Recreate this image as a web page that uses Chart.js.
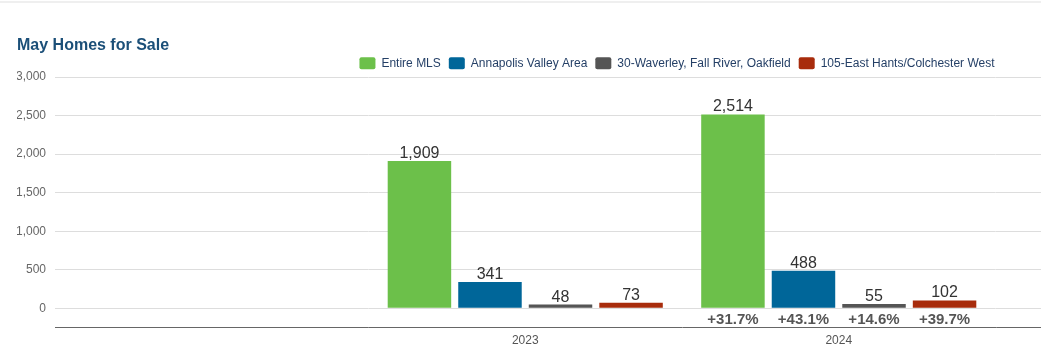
<!DOCTYPE html>
<html>
<head>
<meta charset="utf-8">
<script src="https://cdn.jsdelivr.net/npm/chart.js@4.4.1/dist/chart.umd.min.js"></script>
<style>
  html, body { margin: 0; padding: 0; background: #fff; overflow: hidden; }
  body { width: 1041px; height: 351px; position: relative; }
  #topline { position: absolute; left: 0; top: 1px; width: 1041px; height: 2px; background: #efefef; }
  #wrap { position: absolute; left: 0; top: 0; width: 1340px; height: 351px; }
</style>
</head>
<body>
<div id="topline"></div>
<div id="wrap"><canvas id="c"></canvas></div>
<script>
// ---- data ----
const categories = ["", "2023", "2024", ""];
const seriesNames = ["Entire MLS", "Annapolis Valley Area", "30-Waverley, Fall River, Oakfield", "105-East Hants/Colchester West"];
const entireMLS = [null, 1909, 2514, null];
const annapolisValley = [null, 341, 488, null];
const waverley = [null, 48, 55, null];
const eastHants = [null, 73, 102, null];
const changeLabels2024 = ["+31.7%", "+43.1%", "+14.6%", "+39.7%"];
const yTicks = [0, 500, 1000, 1500, 2000, 2500, 3000];
const seriesColors = ["#6cc04a", "#006699", "#555555", "#a82c0c"];

const seriesValues = [entireMLS, annapolisValley, waverley, eastHants];

const labelPlugin = {
  id: 'barLabels',
  afterLayout(chart) {
    // nudge the legend slightly to the left, like the original
    if (chart.legend) { chart.legend.left -= 5; chart.legend.right -= 5; }
  },
  afterDatasetsDraw(chart) {
    const ctx = chart.ctx;
    ctx.save();
    ctx.textAlign = 'center';
    chart.data.datasets.forEach((ds, di) => {
      const meta = chart.getDatasetMeta(di);
      meta.data.forEach((bar, i) => {
        const v = ds.data[i];
        if (v === null || v === undefined) return;
        ctx.font = '16px "Liberation Sans", Arial, sans-serif';
        ctx.fillStyle = '#333333';
        ctx.textBaseline = 'alphabetic';
        ctx.fillText(v.toLocaleString('en-US'), bar.x, bar.y - 3);
        if (categories[i] === "2024") {
          ctx.font = 'bold 15px "Liberation Sans", Arial, sans-serif';
          ctx.fillStyle = '#555555';
          const zeroY = chart.scales.y.getPixelForValue(0);
          ctx.fillText(changeLabels2024[di], bar.x, zeroY + 16);
        }
      });
    });
    ctx.restore();
  }
};

new Chart(document.getElementById('c'), {
  type: 'bar',
  data: {
    labels: categories,
    datasets: seriesNames.map((name, k) => ({
      label: name,
      data: seriesValues[k],
      backgroundColor: seriesColors[k],
      borderWidth: 0,
      categoryPercentage: 0.9,
      barPercentage: 0.9
    }))
  },
  options: {
    responsive: true,
    maintainAspectRatio: false,
    animation: false,
    events: [],
    layout: { padding: { left: 17, right: 31, top: 0, bottom: -3 } },
    plugins: {
      title: {
        display: true,
        text: 'May Homes for Sale',
        align: 'start',
        color: '#1b4f78',
        font: { family: '"Liberation Sans", Arial, sans-serif', size: 16, weight: 'bold' },
        padding: { top: 35.5, bottom: -5.5 }
      },
      legend: {
        display: true,
        position: 'top',
        align: 'center',
        fullSize: false,
        maxHeight: 27.8,
        labels: {
          boxWidth: 16,
          boxHeight: 12,
          padding: 8,
          color: '#243f66',
          font: { family: '"Liberation Sans", Arial, sans-serif', size: 12 },
          useBorderRadius: true,
          borderRadius: 2
        }
      },
      tooltip: { enabled: false }
    },
    scales: {
      x: {
        offset: true,
        grid: { display: false, drawTicks: false },
        border: { display: true, color: '#666666', width: 1 },
        ticks: {
          color: '#555555',
          padding: 6,
          font: { family: '"Liberation Sans", Arial, sans-serif', size: 12 }
        }
      },
      y: {
        min: -250,
        max: 3000,
        afterBuildTicks: (axis) => { axis.ticks = yTicks.map(v => ({ value: v })); },
        afterFit: (axis) => { axis.width = 38; },
        grid: { color: '#dddddd', drawTicks: false, lineWidth: 1 },
        border: { display: false },
        ticks: {
          color: '#666666',
          padding: 9,
          font: { family: '"Liberation Sans", Arial, sans-serif', size: 12 },
          callback: (v) => Number(v).toLocaleString('en-US')
        }
      }
    }
  },
  plugins: [labelPlugin]
});
</script>
</body>
</html>
